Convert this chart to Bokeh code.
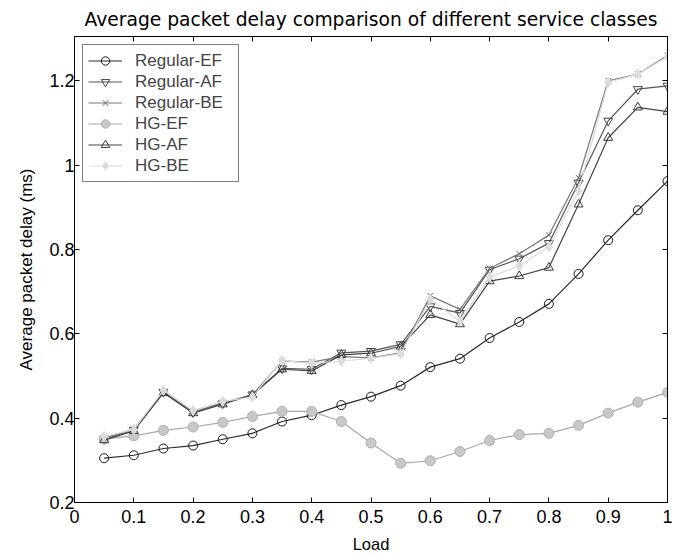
from bokeh.plotting import figure
from bokeh.models import LinearAxis, FixedTicker, CustomJSTickFormatter, Range1d, Legend, LegendItem
from bokeh.embed import file_html
from bokeh.resources import INLINE

load = [0.05, 0.1, 0.15, 0.2, 0.25, 0.3, 0.35, 0.4, 0.45, 0.5,
        0.55, 0.6, 0.65, 0.7, 0.75, 0.8, 0.85, 0.9, 0.95, 1.0]

regular_ef = [0.305, 0.312, 0.328, 0.335, 0.350, 0.364, 0.392, 0.407, 0.431, 0.451,
              0.477, 0.521, 0.541, 0.590, 0.628, 0.671, 0.742, 0.822, 0.893, 0.962]
regular_af = [0.350, 0.372, 0.462, 0.414, 0.435, 0.456, 0.518, 0.516, 0.555, 0.559,
              0.575, 0.665, 0.649, 0.752, 0.778, 0.815, 0.958, 1.105, 1.180, 1.188]
regular_be = [0.352, 0.374, 0.462, 0.414, 0.437, 0.455, 0.535, 0.533, 0.546, 0.543,
              0.555, 0.690, 0.658, 0.755, 0.790, 0.834, 0.970, 1.200, 1.216, 1.260]
hg_ef = [0.351, 0.358, 0.371, 0.379, 0.390, 0.404, 0.416, 0.416, 0.392, 0.341,
         0.293, 0.299, 0.321, 0.347, 0.361, 0.364, 0.383, 0.412, 0.438, 0.461]
hg_af = [0.348, 0.370, 0.460, 0.412, 0.433, 0.455, 0.516, 0.512, 0.550, 0.554,
         0.570, 0.645, 0.623, 0.725, 0.737, 0.757, 0.907, 1.065, 1.137, 1.127]
hg_be = [0.357, 0.373, 0.466, 0.418, 0.440, 0.450, 0.537, 0.530, 0.535, 0.542,
         0.553, 0.682, 0.630, 0.735, 0.761, 0.806, 0.939, 1.196, 1.216, 1.257]

x_ticks = [0, 0.1, 0.2, 0.3, 0.4, 0.5, 0.6, 0.7, 0.8, 0.9, 1.0]
y_ticks = [0.2, 0.4, 0.6, 0.8, 1.0, 1.2]

FONT = "Liberation Sans"
WIDE = "DejaVu Sans"

p = figure(width=672, height=553, output_backend="svg", toolbar_location=None,
           x_range=Range1d(0, 1), y_range=Range1d(0.2, 1.305),
           frame_width=593, frame_height=466,
           min_border_left=74, min_border_right=5, min_border_top=36, min_border_bottom=51,
           x_axis_label="Load", y_axis_label="Average packet delay (ms)")

p.title.text = "Average packet delay comparison of different service classes"
p.title.align = "center"
p.title.text_font = WIDE
p.title.text_font_size = "18.7px"
p.title.text_font_style = "normal"
p.title.text_color = "black"
p.title.standoff = 13

p.grid.visible = False
p.outline_line_color = "black"
p.outline_line_width = 1
p.background_fill_color = "white"
p.border_fill_color = "white"

fmt = CustomJSTickFormatter(code="return String(Math.round(tick*10)/10);")

for ax in p.xaxis:
    ax.ticker = FixedTicker(ticks=x_ticks)
    ax.major_label_standoff = 7
    ax.axis_label_standoff = 9
    ax.axis_label_text_font_size = "16.5px"
for ax in p.yaxis:
    ax.ticker = FixedTicker(ticks=y_ticks)
    ax.major_label_standoff = 0
    ax.axis_label_standoff = 10
    ax.axis_label_text_font_size = "17px"

for ax in list(p.xaxis) + list(p.yaxis):
    ax.formatter = fmt
    ax.major_tick_in = 5
    ax.major_tick_out = 0
    ax.minor_tick_in = 0
    ax.minor_tick_out = 0
    ax.major_label_text_font = FONT
    ax.major_label_text_font_size = "18px"
    ax.major_label_text_color = "black"
    ax.axis_line_color = "black"
    ax.major_tick_line_color = "black"
    ax.axis_label_text_font = FONT
    ax.axis_label_text_font_style = "normal"
    ax.axis_label_text_color = "black"

# box axes (top and right): ticks only, drawn as minor ticks so no labels exist
for side, ticks in (("above", x_ticks), ("right", y_ticks)):
    ax = LinearAxis(ticker=FixedTicker(ticks=[], minor_ticks=ticks),
                    major_tick_in=0, major_tick_out=0, minor_tick_in=5, minor_tick_out=0,
                    major_label_standoff=0, axis_line_color="black",
                    minor_tick_line_color="black")
    p.add_layout(ax, side)

items = []
def series(label, ys, line_color, marker, size, fill, mline):
    r = p.line(load, ys, line_color=line_color, line_width=1.2)
    m = p.scatter(load, ys, marker=marker, size=size, fill_color=fill,
                  line_color=mline, line_width=1)
    items.append(LegendItem(label=label, renderers=[r, m]))

series("Regular-EF", regular_ef, "#2a2a2a", "circle", 9, None, "#1a1a1a")
series("Regular-AF", regular_af, "#555555", "inverted_triangle", 9, None, "#444444")
series("Regular-BE", regular_be, "#7a7a7a", "x", 8, None, "#6a6a6a")
series("HG-EF", hg_ef, "#a8a8a8", "circle", 10, "#c8c8c8", "#b0b0b0")
series("HG-AF", hg_af, "#444444", "triangle", 9, None, "#3a3a3a")
series("HG-BE", hg_be, "#dadada", "diamond", 10, "#dcdcdc", "#dcdcdc")

legend = Legend(items=items, location="top_left", margin=8, padding=5, spacing=0,
                label_height=21, glyph_height=21, glyph_width=34, label_standoff=13,
                label_width=98,
                label_text_font=FONT, label_text_font_size="17px",
                border_line_color="black", border_line_width=1,
                background_fill_color="white", background_fill_alpha=1)
p.add_layout(legend)

open("out.html", "w").write(file_html(p, INLINE))
